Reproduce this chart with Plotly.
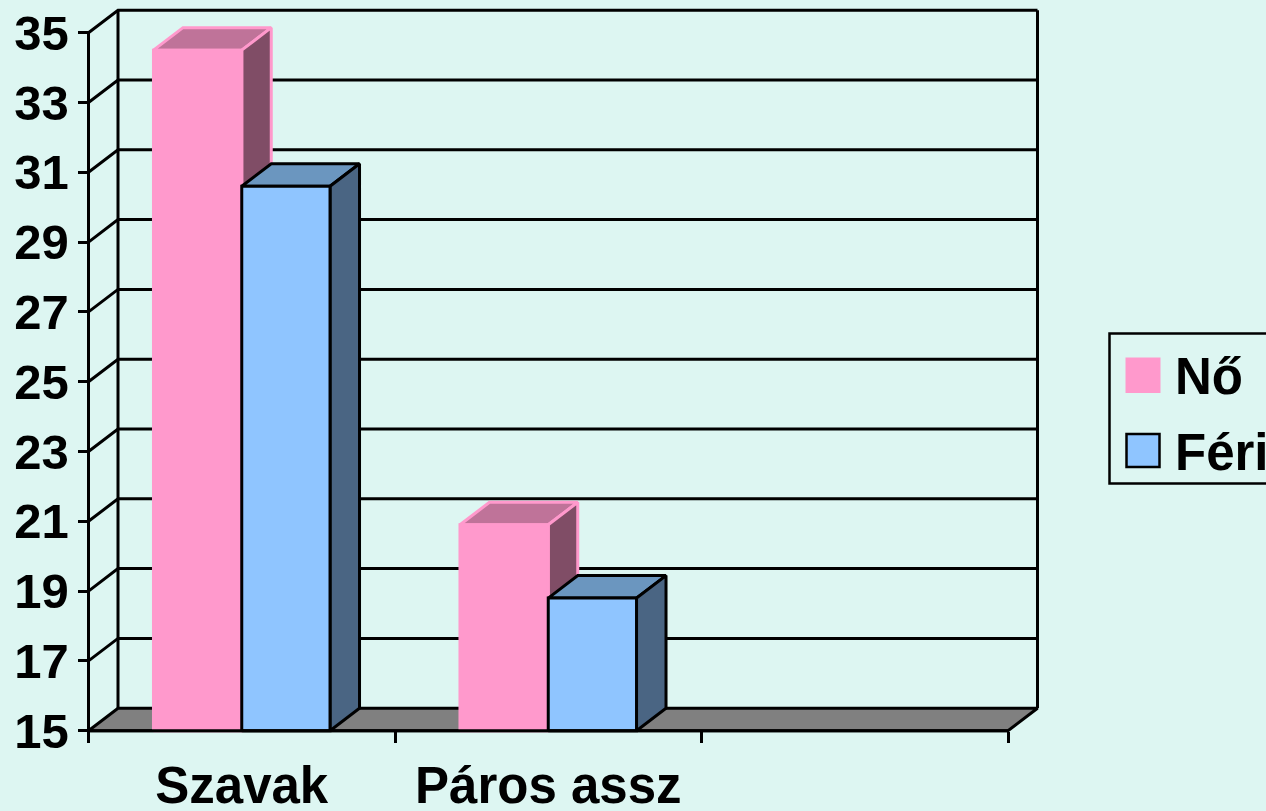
import plotly.graph_objects as go

# ---- data ----
categories = ["Szavak", "Páros assz", ""]
series_names = ["Nő", "Féri"]
no_values = [34.5, 20.9, None]
feri_values = [30.6, 18.8, None]
y_ticks = [15, 17, 19, 21, 23, 25, 27, 29, 31, 33, 35]
x_boundaries = [0, 1, 2, 3]

# ---- styling / layout constants ----
W, H = 1266, 811
BG = "#DDF6F2"
FONT = "Liberation Sans"
FS = 51
LW = 3
X0_PX, CAT_PX = 88.5, 306.5
Y15_PX, UNIT_PX = 730.7, 34.9
DX = 29.5 / CAT_PX      # depth offset, category units
DV = 22.5 / UNIT_PX     # depth offset, value units
BAR_W = 0.288
BASE = 15
PINK = dict(front="#FF99CC", top="#BF7399", side="#804D66", edge="#FF99CC")
BLUE = dict(front="#8FC5FF", top="#6B96BF", side="#4A6583", edge="#000000")

fig = go.Figure()


def poly(xs, ys, fill, edge):
    fig.add_trace(go.Scatter(x=xs, y=ys, mode="lines", fill="toself", fillcolor=fill,
                             line=dict(color=edge, width=LW), hoverinfo="skip",
                             showlegend=False))


def line(xs, ys):
    fig.add_trace(go.Scatter(x=xs, y=ys, mode="lines", line=dict(color="#000000", width=LW),
                             hoverinfo="skip", showlegend=False))


xmax = x_boundaries[-1]
ymax = y_ticks[-1]
# walls and grid
for v in y_ticks:
    if v == BASE:
        continue
    line([0, DX, xmax + DX], [v, v + DV, v + DV])
line([0, 0], [BASE, ymax])
line([DX, DX], [BASE + DV, ymax + DV])
line([xmax + DX, xmax + DX], [BASE + DV, ymax + DV])
# floor
poly([0, xmax, xmax + DX, DX, 0], [BASE, BASE, BASE + DV, BASE + DV, BASE], "#808080", "#000000")


def bar3d(x0, x1, v, c):
    poly([x0, x0 + DX, x1 + DX, x1, x0], [v, v + DV, v + DV, v, v], c["top"], c["edge"])
    poly([x1, x1 + DX, x1 + DX, x1, x1], [BASE, BASE + DV, v + DV, v, BASE], c["side"], c["edge"])
    poly([x0, x1, x1, x0, x0], [BASE, BASE, v, v, BASE], c["front"], c["edge"])


for i, (a, b) in enumerate(zip(no_values, feri_values)):
    if a is None:
        continue
    bar3d(i + 0.5 - BAR_W, i + 0.5, a, PINK)
    bar3d(i + 0.5, i + 0.5 + BAR_W, b, BLUE)

# redraw the front baseline on top
line([0, xmax], [BASE, BASE])

tick_font = dict(family=FONT, size=FS, color="#000000", weight=700)
y_tick_font = dict(family=FONT, size=49, color="#000000", weight=700)


def px(x):
    return x / W


def py(y):
    return 1 - y / H


shapes = [
    dict(type="rect", xref="paper", yref="paper", x0=px(1109.5), x1=px(1300), y0=py(333.5), y1=py(483.5),
         line=dict(color="#000000", width=2.5), fillcolor="rgba(0,0,0,0)"),
    dict(type="rect", xref="paper", yref="paper", x0=px(1126.5), x1=px(1159.5), y0=py(358.5), y1=py(392),
         line=dict(color=PINK["edge"], width=2), fillcolor=PINK["front"]),
    dict(type="rect", xref="paper", yref="paper", x0=px(1126.5), x1=px(1159.5), y0=py(434), y1=py(467),
         line=dict(color="#000000", width=2.5), fillcolor=BLUE["front"]),
]
annotations = [
    dict(text=name, xref="paper", yref="paper", x=px(1173), y=py(cy), xanchor="left", yanchor="middle",
         showarrow=False, align="left", font=tick_font)
    for name, cy in zip(series_names, [376, 452])
]

fig.update_layout(
    width=W, height=H, autosize=False,
    margin=dict(l=0, r=0, t=0, b=0, pad=0, autoexpand=False),
    paper_bgcolor=BG, plot_bgcolor=BG,
    showlegend=False,
    shapes=shapes, annotations=annotations,
    xaxis=dict(
        domain=[0, 1], anchor="free", position=py(Y15_PX), automargin=False,
        range=[-X0_PX / CAT_PX, (W - X0_PX) / CAT_PX],
        showgrid=False, zeroline=False, showline=False,
        tickmode="array", tickvals=[i + 0.5 for i in range(len(categories))], ticktext=categories,
        ticks="outside", ticklen=10, tickcolor="rgba(0,0,0,0)", tickangle=0, tickfont=tick_font,
        minor=dict(tickmode="array", tickvals=x_boundaries, ticks="outside", ticklen=11,
                   tickwidth=2.5, tickcolor="#000000", showgrid=False),
    ),
    yaxis=dict(
        domain=[0, 1], anchor="free", position=px(X0_PX), automargin=False,
        range=[BASE - (H - Y15_PX) / UNIT_PX, BASE + Y15_PX / UNIT_PX],
        showgrid=False, zeroline=False, showline=False,
        tickmode="array", tickvals=y_ticks, ticktext=[str(v) for v in y_ticks],
        ticks="outside", ticklen=11, tickwidth=2.5, tickcolor="#000000", tickfont=y_tick_font,
        ticklabelstandoff=-1,
    ),
)

fig.write_html("out.html", config=dict(displayModeBar=False),
               post_script="document.body.style.margin='0';document.body.style.background='%s';" % BG)
